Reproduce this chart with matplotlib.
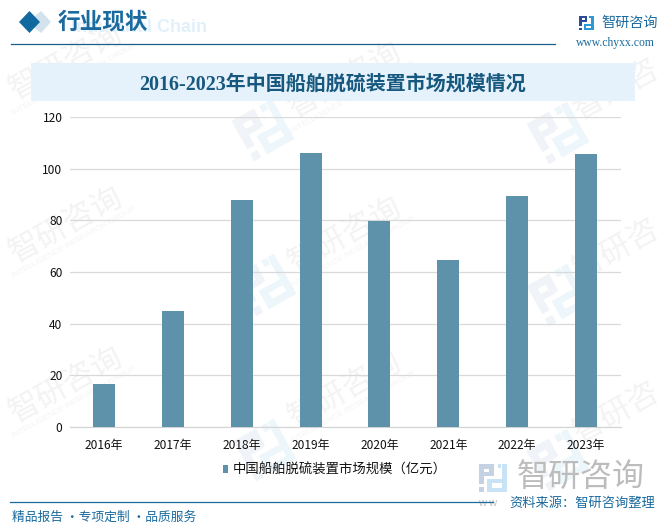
import numpy as np
import matplotlib
matplotlib.use("Agg")
import matplotlib.pyplot as plt
from matplotlib.patches import Rectangle, Polygon

categories = ["2016年", "2017年", "2018年", "2019年", "2020年", "2021年", "2022年", "2023年"]
values = [16.5, 44.8, 87.8, 106, 79.8, 64.8, 89.3, 105.5]
y_ticks = [0, 20, 40, 60, 80, 100, 120]
series_name = "中国船舶脱硫装置市场规模（亿元）"
title = "2016-2023年中国船舶脱硫装置市场规模情况"

W, H = 664, 528
plt.rcParams['font.family'] = ['Noto Sans CJK SC', 'DejaVu Sans']
fig = plt.figure(figsize=(W / 100, H / 100), dpi=100, facecolor='white')

def fx(x): return x / W
def fy(y): return 1 - y / H

def poly(pts, color, z):
    fig.patches.append(Polygon([(fx(a), fy(b)) for a, b in pts], closed=True, transform=fig.transFigure,
                               facecolor=color, edgecolor='none', zorder=z))

LOGO_DARK = [(0, 0, .55, .17), (0, 0, .18, .70), (.38, 0, .17, .42), (.18, .30, .30, .14), (0, .82, .18, .18)]
LOGO_LIGHT = [(.68, 0, .14, .16), (.84, 0, .16, 1), (.32, .84, .68, .16), (.32, .55, .17, .45), (.32, .55, .52, .14)]

def logo(cx, cy, size, c1, c2, angle=0, z=1):
    a = np.radians(angle)
    for rects, col in ((LOGO_DARK, c1), (LOGO_LIGHT, c2)):
        for (x, y, w, h) in rects:
            pts = []
            for px, py in [(x, y), (x + w, y), (x + w, y + h), (x, y + h)]:
                dx, dy = (px - .5) * size, (py - .5) * size
                pts.append((cx + dx * np.cos(a) + dy * np.sin(a), cy - dx * np.sin(a) + dy * np.cos(a)))
            poly(pts, col, z)

# watermarks
for (x, y) in [(66, 62), (345, 80), (66, 225), (345, 235), (66, 385), (345, 390)]:
    fig.text(fx(x), fy(y), "智研咨询", fontsize=22.5, color='#f3f3f3', rotation=29,
             rotation_mode='anchor', ha='center', va='center', zorder=0)
    fig.text(fx(x + 8), fy(y + 17), "INTELLIGENCE RESEARCH GROUP", fontsize=6, color='#f4f4f4', rotation=29,
             rotation_mode='anchor', ha='center', va='center', family='Liberation Sans', zorder=0)
for (x, y) in [(616, 90), (616, 250), (616, 413)]:
    fig.text(fx(x), fy(y), "智研咨", fontsize=22.5, color='#f3f3f3', rotation=29,
             rotation_mode='anchor', ha='center', va='center', zorder=0)
for (x, y) in [(263, 130), (558, 133), (265, 285), (558, 295), (265, 450), (558, 460)]:
    logo(x, y, 46, '#f0f3f7', '#edf6fb', angle=29, z=0)

# header
fig.text(fx(207), fy(27), "Industrial Chain", fontsize=13, fontweight='bold', color='#e1f0fa',
         family='Liberation Sans', ha='right', va='center', zorder=1)
poly([(35, 16), (41, 11), (51, 22), (41, 33), (35, 28)], '#d2e3ee', 1)
poly([(19, 22), (29.5, 11), (40, 22), (29.5, 33)], '#11699f', 2)
fig.text(fx(58), fy(22), "行业现状", fontsize=16.3, fontweight='bold', color='#1a6a9f', ha='left', va='center', zorder=3)
fig.add_artist(plt.Line2D([fx(11), fx(555)], [fy(43.5), fy(43.5)], color='#1a5f8e', lw=0.9))

# logo top right
logo(586.5, 23, 14.5, '#2b4c96', '#2a9ad6', z=2)
fig.text(fx(601), fy(23), "智研咨询", fontsize=10.2, color='#1a6a9f', ha='left', va='center', zorder=3)
fig.text(fx(576), fy(43), "www.chyxx.com", fontsize=8.4, color='#1a6a9f', family='Liberation Serif',
         ha='left', va='center', zorder=3)

# title band
fig.patches.append(Rectangle((fx(31), fy(101)), 604 / W, 38 / H, transform=fig.transFigure,
                             facecolor='#e6f2fb', edgecolor='none', zorder=1))
fig.text(fx(333), fy(85), title, fontsize=14.4, fontweight='bold', color='#17587f',
         family=['Liberation Serif', 'Noto Sans CJK SC'], ha='center', va='center', zorder=3)

# chart
ax = fig.add_axes([fx(69.5), fy(427), (620.5 - 69.5) / W, (427 - 117) / H], zorder=5)
ax.patch.set_alpha(0)
bars = ax.bar(categories, values, width=0.32, color='#5e92ab', zorder=3, label=series_name)
ax.set_xlim(-0.5, len(categories) - 0.5)
ax.set_ylim(0, 120)
ax.set_yticks(y_ticks)
ax.grid(axis='y', color='#d9d9d9', lw=0.9, zorder=1)
ax.set_axisbelow(True)
for s in ['top', 'right', 'left']:
    ax.spines[s].set_visible(False)
ax.spines['bottom'].set_color('#d4d4d4')
ax.tick_params(axis='both', length=0, labelsize=8.6, colors='#111111')
ax.tick_params(axis='x', pad=9)
ax.tick_params(axis='y', pad=5)

fig.legend(handles=[bars], labels=[series_name], loc='center', bbox_to_anchor=(fx(335), fy(470)),
           frameon=False, fontsize=9.6, handlelength=0.42, handleheight=0.5, handletextpad=0.35,
           labelcolor='#111111').set_zorder(6)

# footer
logo(492.5, 478, 28, '#c5d2e4', '#c7e3f5', z=1)
fig.text(fx(517), fy(477), "智研咨询", fontsize=23, color='#bcbcbc', ha='left', va='center', zorder=1)
fig.text(fx(478), fy(503), "w w", fontsize=8, color='#c4c4c4', family='Liberation Sans', ha='left', va='center', zorder=1)
fig.add_artist(plt.Line2D([fx(10), fx(493)], [fy(502), fy(502)], color='#1a6a9f', lw=0.9))
fig.text(fx(12), fy(517.5), "精品报告 ·专项定制 ·品质服务", fontsize=9.2, color='#1a6a9f', ha='left', va='center', zorder=3)
fig.text(fx(655), fy(503), "资料来源：智研咨询整理", fontsize=9.5, color='#1a6a9f', ha='right', va='center', zorder=3)

fig.savefig("out.png", dpi=100, facecolor='white')
